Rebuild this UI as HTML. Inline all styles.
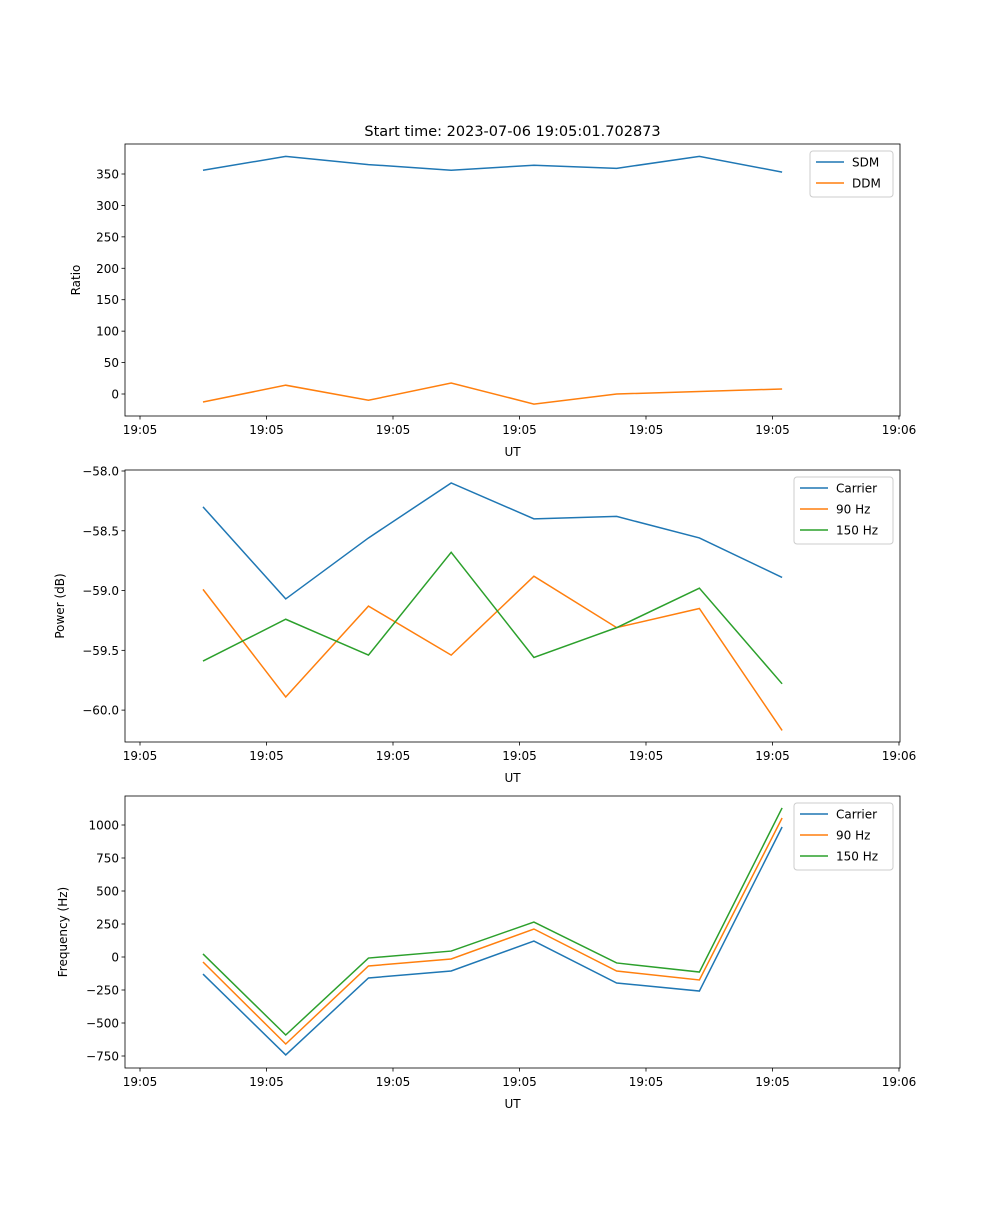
<!DOCTYPE html>
<html><head><meta charset="utf-8"><style>
body{margin:0;background:#fff}
svg text{font-family:"DejaVu Sans","Liberation Sans",sans-serif;fill:#000}
</style></head><body>
<svg id="fig" width="1000" height="1200" xmlns="http://www.w3.org/2000/svg"></svg>
<script>
const times=[4.98,11.52,18.06,24.6,31.14,37.68,44.22,50.76];
const xTicks=[0,10,20,30,40,50,60];
const xTickLabels=["19:05","19:05","19:05","19:05","19:05","19:05","19:06"];
const sdm=[356,378,365,356,364,359,378,353];
const ddm=[-12.7,14,-10,17.5,-16,0,4,8];
const powCarrier=[-58.3,-59.07,-58.56,-58.1,-58.4,-58.38,-58.56,-58.89];
const pow90=[-58.99,-59.89,-59.13,-59.54,-58.88,-59.31,-59.15,-60.17];
const pow150=[-59.59,-59.24,-59.54,-58.68,-59.56,-59.31,-58.98,-59.78];
const freqCarrier=[-129,-742,-159,-106,121,-197,-258,985];
const freq90=[-38,-659,-68,-15,212,-106,-174,1053];
const freq150=[23,-591,-8,45,265,-45,-114,1129];
const ticks1=[0,50,100,150,200,250,300,350];
const ticks2=[-60,-59.5,-59,-58.5,-58];
const ticks3=[-750,-500,-250,0,250,500,750,1000];
const tickLabels2=["\u221260.0","\u221259.5","\u221259.0","\u221258.5","\u221258.0"];
const tickLabels3=["\u2212750","\u2212500","\u2212250","0","250","500","750","1000"];
const C=["#1f77b4","#ff7f0e","#2ca02c"];
const NS="http://www.w3.org/2000/svg";
const svg=document.getElementById('fig');
function mk(tag,attrs,parent,text){const e=document.createElementNS(NS,tag);for(const k in attrs)e.setAttribute(k,attrs[k]);if(text!==undefined)e.textContent=text;(parent||svg).appendChild(e);return e;}
const L=125,R=900;
const xs=t=>L+(t-(-1.186))/(60.08-(-1.186))*(R-L);
function panel(name,top,bot,ymin,ymax,ticks,tlabels,ylabel,series,names,leg){
  const g=mk('g',{});
  
  
  const ys=v=>bot-(v-ymin)/(ymax-ymin)*(bot-top);
  series.forEach((s,i)=>{
    const p=mk('polyline',{points:s.map((v,j)=>xs(times[j])+','+ys(v)).join(' '),fill:'none',stroke:C[i],'stroke-width':1.5},g);
    
    
  });
  mk('rect',{x:L,y:top,width:R-L,height:bot-top,fill:'none',stroke:'#000','stroke-width':0.8},g);
  xTicks.forEach((t,i)=>{const x=xs(t);mk('line',{x1:x,x2:x,y1:bot,y2:bot+3.5,stroke:'#000','stroke-width':0.8},g);
    const tx=mk('text',{x:x,y:bot+18,'text-anchor':'middle','font-size':12},g,xTickLabels[i]);
    });
  ticks.forEach((v,i)=>{const y=ys(v);mk('line',{x1:L-3.5,x2:L,y1:y,y2:y,stroke:'#000','stroke-width':0.8},g);
    const tx=mk('text',{x:L-6,y:y+4.5,'text-anchor':'end','font-size':12},g,tlabels[i]);
    });
  const xl=mk('text',{x:(L+R)/2,y:bot+40,'text-anchor':'middle','font-size':12},g,'UT');
  
  const cy=(top+bot)/2;
  const yl=mk('text',{x:leg.yx,y:cy,'text-anchor':'middle','font-size':12,transform:`rotate(-90 ${leg.yx} ${cy})`},g,ylabel);
  
  const lg=mk('g',{},g);
  
  mk('rect',{x:leg.x,y:top+7,width:893-leg.x,height:names.length*21+4,rx:3,fill:'#fff',stroke:'#ccc','stroke-width':1},lg);
  names.forEach((n,i)=>{const y=top+18+i*21;
    mk('line',{x1:leg.x+6,x2:leg.x+34,y1:y,y2:y,stroke:C[i],'stroke-width':1.5},lg);
    const tx=mk('text',{x:leg.x+42,y:y+4.5,'font-size':12},lg,n);
    });
}
const sc1=220/350;
panel('ratio-panel',144,416,-(416-394)/sc1,(394-144)/sc1,ticks1,ticks1.map(String),'Ratio',[sdm,ddm],['SDM','DDM'],{x:810,yx:80});
panel('power-panel',470,742,-58-(742-470)/120,-58+(471-470)/120,ticks2,tickLabels2,'Power (dB)',[powCarrier,pow90,pow150],['Carrier','90 Hz','150 Hz'],{x:794,yx:64});
const sc3=231/1750;
panel('frequency-panel',796,1068,-(1068-957)/sc3,(957-796)/sc3,ticks3,tickLabels3,'Frequency (Hz)',[freqCarrier,freq90,freq150],['Carrier','90 Hz','150 Hz'],{x:794,yx:67});
const title=mk('text',{x:512.5,y:136,'text-anchor':'middle','font-size':14.5},svg,'Start time: 2023-07-06 19:05:01.702873');


</script>
</body></html>
